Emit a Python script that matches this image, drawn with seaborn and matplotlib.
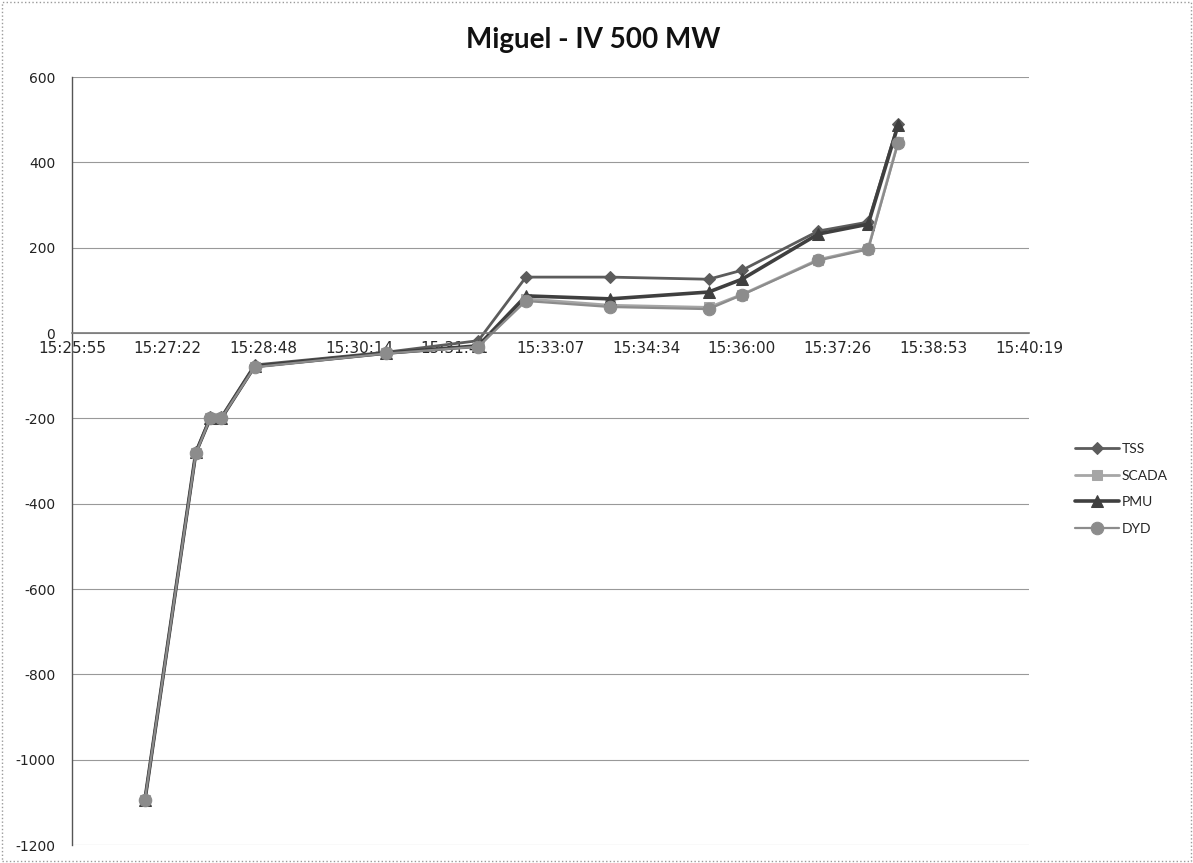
import datetime as dt
import matplotlib
matplotlib.use("Agg")
import matplotlib.pyplot as plt
import matplotlib.dates as mdates
from matplotlib.patches import Rectangle
import pandas as pd
import seaborn as sns

# ---------------- data ----------------
times = ["15:27:01", "15:27:47", "15:28:00", "15:28:10", "15:28:40", "15:30:39", "15:32:02",
         "15:32:45", "15:34:01", "15:35:30", "15:36:00", "15:37:09", "15:37:54", "15:38:21"]
tss = [-1095, -280, -197, -197, -75, -45, -18, 131, 131, 126, 147, 239, 260, 490]
scada = [-1095, -282, -200, -200, -80, -48, -32, 80, 65, 60, 90, 172, 198, 448]
pmu = [-1095, -280, -200, -200, -78, -47, -30, 87, 80, 96, 126, 232, 255, 487]
dyd = [-1095, -282, -200, -200, -80, -48, -32, 75, 61, 56, 89, 170, 196, 445]
series_names = ["TSS", "SCADA", "PMU", "DYD"]
x_tick_labels = ["15:25:55", "15:27:22", "15:28:48", "15:30:14", "15:31:41", "15:33:07",
                 "15:34:34", "15:36:00", "15:37:26", "15:38:53", "15:40:19"]
y_ticks = [-1200, -1000, -800, -600, -400, -200, 0, 200, 400, 600]
title = "Miguel - IV 500 MW"

# ---------------- build frame ----------------
base = dt.datetime(2008, 1, 1)
def to_dt(s):
    h, m, sec = map(int, s.split(":"))
    return base + dt.timedelta(hours=h, minutes=m, seconds=sec)

t = [to_dt(s) for s in times]
values = {"TSS": tss, "SCADA": scada, "PMU": pmu, "DYD": dyd}
df = pd.concat([pd.DataFrame({"time": t, "value": values[n], "series": n}) for n in series_names],
               ignore_index=True)

styles = {
    "TSS": dict(color="#5c5c5c", marker="D", ms=6.5, lw=2.0),
    "SCADA": dict(color="#a6a6a6", marker="s", ms=7.5, lw=2.0),
    "PMU": dict(color="#3f3f3f", marker="^", ms=9, lw=2.6),
    "DYD": dict(color="#8c8c8c", marker="o", ms=9, lw=1.6),
}

sns.set_theme(style="white")
plt.rcParams["font.family"] = ["DejaVu Sans"]

fig = plt.figure(figsize=(11.93, 8.63), dpi=100)
ax = fig.add_axes([72 / 1193, 1 - 845 / 863, (1029 - 72) / 1193, (845 - 77) / 863])

for n in series_names:
    st = styles[n]
    sub = df[df["series"] == n]
    sns.lineplot(data=sub, x="time", y="value", ax=ax, color=st["color"], linewidth=st["lw"],
                 marker=st["marker"], markersize=st["ms"], markeredgecolor=st["color"],
                 label=n, legend=False, estimator=None, sort=False)

# axes ranges: Excel day fractions 0.643 .. 0.653, major 0.001
day0 = base + dt.timedelta(days=0.643)
tick_pos = [mdates.date2num(day0 + dt.timedelta(days=0.001 * k)) for k in range(len(x_tick_labels))]
ax.set_xlim(tick_pos[0], tick_pos[-1])
ax.set_xticks(tick_pos)
ax.set_xticklabels(x_tick_labels, fontsize=9.5, color="#222222")
ax.set_ylim(-1200, 600)
ax.set_yticks(y_ticks)
ax.set_yticklabels([str(v) for v in y_ticks], fontsize=10, color="#222222")
ax.set_xlabel("")
ax.set_ylabel("")

ax.grid(axis="y", color="#999999", linewidth=0.8)
ax.grid(axis="x", visible=False)
ax.set_axisbelow(True)

for s in ["top", "right"]:
    ax.spines[s].set_visible(False)
ax.spines["bottom"].set_position(("data", 0))
ax.spines["bottom"].set_color("#7a7a7a")
ax.spines["bottom"].set_linewidth(1.2)
ax.spines["left"].set_color("#555555")
ax.spines["left"].set_linewidth(1.0)
ax.tick_params(axis="x", direction="out", length=3, width=0.8, color="#7a7a7a", pad=3)
ax.tick_params(axis="y", direction="out", length=3, width=0.8, color="#555555", pad=9)
ax.patch.set_alpha(0)

# legend
handles, labels = ax.get_legend_handles_labels()
fig.legend(handles, labels, loc="center left", bbox_to_anchor=(1062 / 1193, 1 - 489 / 863),
           frameon=False, handlelength=3.2, labelspacing=1.05, handletextpad=0.2,
           prop={"family": "Lato", "size": 10})

fig.text(0.497, 1 - 40 / 863, title, ha="center", va="center", fontsize=20,
         fontweight="bold", family="Lato", color="#111111")

fig.patches.append(Rectangle((0.002, 0.002), 0.996, 0.996, transform=fig.transFigure,
                             fill=False, edgecolor="#9a9a9a", linewidth=1.0, linestyle=":"))

fig.savefig("out.png", dpi=100)
